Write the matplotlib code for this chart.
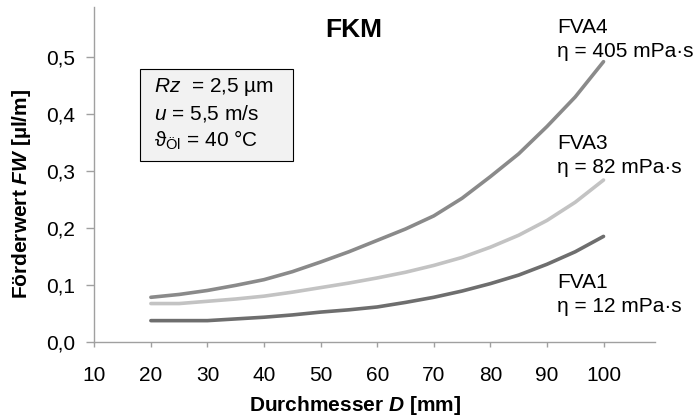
import matplotlib
matplotlib.use("Agg")
import matplotlib.pyplot as plt
from matplotlib.patches import Rectangle
from matplotlib.ticker import FuncFormatter

plt.rcParams['font.family'] = ['Liberation Sans', 'DejaVu Sans']
plt.rcParams['mathtext.fontset'] = 'custom'
plt.rcParams['mathtext.rm'] = 'Liberation Sans'
plt.rcParams['mathtext.it'] = 'Liberation Sans:italic'
plt.rcParams['mathtext.bf'] = 'Liberation Sans:bold:italic'

# Durchmesser D [mm]
durchmesser = [20, 25, 30, 35, 40, 45, 50, 55, 60, 65, 70, 75, 80, 85, 90, 95, 100]

# Foerderwert FW [ul/m]
fva4 = [0.078, 0.083, 0.090, 0.099, 0.109, 0.123, 0.140, 0.158, 0.178, 0.198,
        0.221, 0.252, 0.290, 0.330, 0.378, 0.430, 0.492]
fva3 = [0.067, 0.067, 0.071, 0.075, 0.080, 0.087, 0.095, 0.103, 0.112, 0.122,
        0.134, 0.148, 0.166, 0.187, 0.213, 0.245, 0.284]
fva1 = [0.037, 0.037, 0.037, 0.040, 0.043, 0.047, 0.052, 0.056, 0.061, 0.069,
        0.078, 0.089, 0.102, 0.117, 0.136, 0.158, 0.185]

series_labels = ["FVA4\nη = 405 mPa·s", "FVA3\nη = 82 mPa·s", "FVA1\nη = 12 mPa·s"]
x_ticks = [10, 20, 30, 40, 50, 60, 70, 80, 90, 100]
y_ticks = [0.0, 0.1, 0.2, 0.3, 0.4, 0.5]

fig = plt.figure(figsize=(6.96, 4.17), dpi=100)
ax = fig.add_axes([0.1355, 0.1806, 0.8056, 0.8026])

ax.plot(durchmesser, fva4, color='#8a8a8a', lw=2.6, solid_capstyle='round')
ax.plot(durchmesser, fva3, color='#c3c3c3', lw=2.6, solid_capstyle='round')
ax.plot(durchmesser, fva1, color='#6e6e6e', lw=2.6, solid_capstyle='round')

ax.set_xlim(10, 109.1)
ax.set_ylim(0, 0.588)
ax.set_xticks(x_ticks)
ax.set_yticks(y_ticks)
ax.yaxis.set_major_formatter(FuncFormatter(lambda v, p: f"{v:.1f}".replace('.', ',')))

for s in ['top', 'right']:
    ax.spines[s].set_visible(False)
for s in ['left', 'bottom']:
    ax.spines[s].set_color('#a0a0a0')
    ax.spines[s].set_linewidth(1.0)
ax.tick_params(colors='#a0a0a0', labelcolor='black', labelsize=15, width=1.0)
ax.tick_params(axis='x', length=3.6, pad=14)
ax.tick_params(axis='y', length=5.8, pad=8)

fig.text(355.5 / 696, 1 - 411 / 417, r"Durchmesser $\mathbf{D}$ [mm]",
         fontsize=15, fontweight='bold', ha='center', va='baseline')
fig.text(27 / 696, 1 - 193.5 / 417, r"Förderwert $\mathbf{FW}$ [µl/m]",
         fontsize=15, fontweight='bold', ha='center', va='baseline',
         rotation=90, rotation_mode='anchor')

ax.text(55.9, 0.5355, "FKM", fontsize=19, fontweight='bold', ha='center', va='baseline')

# va='baseline' on multi-line text aligns the last line
for label, y in zip(series_labels, [0.5004, 0.2965, 0.0522]):
    ax.text(91.8, y, label, fontsize=15, ha='left', va='baseline', linespacing=1.35)

ax.add_patch(Rectangle((18.08, 0.3176), 45.13 - 18.08, 0.4793 - 0.3176,
                       facecolor='#f2f2f2', edgecolor='black', lw=0.8, zorder=3))
ax.text(20.56, 0.3422, "$Rz$  = 2,5 µm\n$u$ = 5,5 m/s\nϑ$_{\\mathrm{Öl}}$ = 40 °C",
        fontsize=15, ha='left', va='baseline', linespacing=1.3, zorder=4)

fig.savefig("out.png", dpi=100)
